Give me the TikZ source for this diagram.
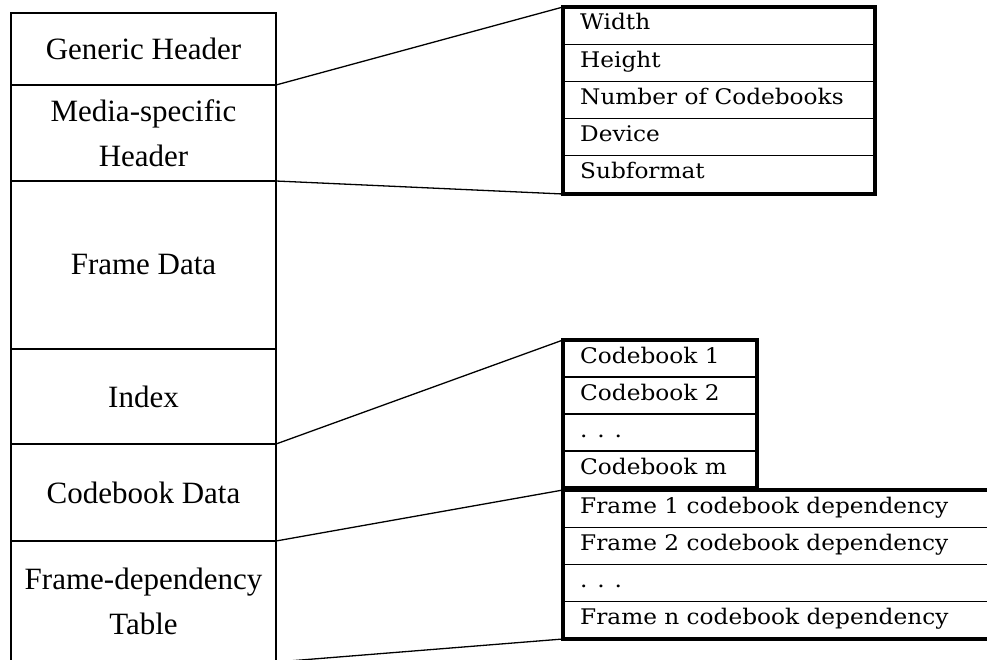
\documentclass[tikz,border=0pt]{standalone}
\usepackage{fontspec}
\setmainfont{Liberation Serif}
\newfontfamily\fieldfont[FakeStretch=1.08]{DejaVu Serif}
\begin{document}
\begin{tikzpicture}[x=1pt,y=-1pt,
  seg/.style={draw,line width=2.4pt,rectangle,inner sep=0pt,outer sep=0pt,
    minimum width=265pt,anchor=north west,align=center,
    font=\fontsize{31}{45}\selectfont},
  recbox/.style={draw,line width=4pt,rectangle,inner sep=0pt,outer sep=0pt,anchor=north west},
  field/.style={anchor=base west,inner sep=0pt,font=\fieldfont\fontsize{21.5}{26}\selectfont},
  rowline/.style={line width=1.3pt},
  link/.style={line width=1.3pt}]
\clip (0,0) rectangle (987,660);

% file layout column
\node[seg,minimum height=72pt] (gh) at (11,13) {Generic Header};
\node[seg,minimum height=96pt] (mh) at (11,85) {Media-specific\\Header};
\node[seg,minimum height=168pt] (fd) at (11,181) {Frame Data};
\node[seg,minimum height=95pt] (ix) at (11,349) {Index};
\node[seg,minimum height=97pt] (cd) at (11,444) {Codebook Data};
\node[seg,minimum height=121pt] (ft) at (11,541) {Frame-dependency\\Table};

% media-specific header fields
\node[recbox,minimum width=312pt,minimum height=187pt] (hdr) at (563,7) {};
\foreach \y in {44.2,81.4,118.6,155.8} \draw[rowline] (563,\y) -- (875,\y);
\node[field] (w) at (580,30) {Width};
\node[field] (h) at (580,67.2) {Height};
\node[field] (nc) at (580,104.4) {Number of Codebooks};
\node[field] (dv) at (580,141.6) {Device};
\node[field] (sf) at (580,178.8) {Subformat};

% codebook list
\node[recbox,minimum width=194pt,minimum height=148pt] (cb) at (563,340) {};
\foreach \y in {377,414,451} \draw[rowline] (563,\y) -- (757,\y);
\node[field] (c1) at (580,363) {Codebook 1};
\node[field] (c2) at (580,400) {Codebook 2};
\node[field] (cx) at (580,437) {. . .};
\node[field] (cm) at (580,474) {Codebook m};

% frame dependency table
\node[recbox,minimum width=440pt,minimum height=149pt] (fdt) at (563,490) {};
\foreach \y in {527.25,564.5,601.75} \draw[rowline] (563,\y) -- (1003,\y);
\node[field] (f1) at (580,513) {Frame 1 codebook dependency};
\node[field] (f2) at (580,550.25) {Frame 2 codebook dependency};
\node[field] (fx) at (580,587.5) {. . .};
\node[field] (fn) at (580,624.75) {Frame n codebook dependency};

% expansion lines
\draw[link] (gh.south east) -- (hdr.north west);
\draw[link] (mh.south east) -- (hdr.south west);
\draw[link] (ix.south east) -- (cb.north west);
\draw[link] (cd.south east) -- (fdt.north west);
\draw[link] (ft.south east) -- (fdt.south west);
\end{tikzpicture}
\end{document}
